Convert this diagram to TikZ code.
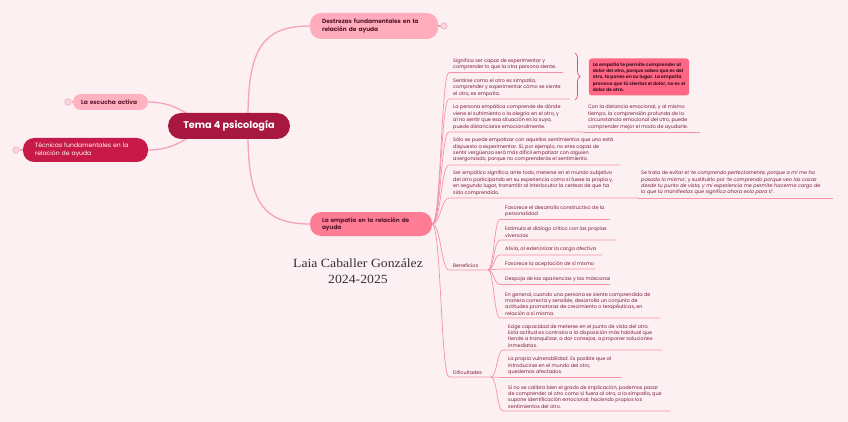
\documentclass[tikz,border=0pt]{standalone}
\usepackage{fontspec}
\setmainfont{Poppins}
\newfontfamily\laiaserif{Liberation Serif}
\usetikzlibrary{decorations.pathreplacing}
\definecolor{bgc}{HTML}{FCF0F3}
\definecolor{ink}{HTML}{7A1E3C}
\definecolor{linkc}{HTML}{F592A8}
\definecolor{mainlinkc}{HTML}{F6A3B4}
\definecolor{crimson}{HTML}{A8173F}
\definecolor{tecc}{HTML}{C81A48}
\definecolor{lightpink}{HTML}{FFB3C1}
\definecolor{destc}{HTML}{FFADBC}
\definecolor{empc}{HTML}{FF7C95}
\definecolor{boxc}{HTML}{FF6884}
\definecolor{dotfill}{HTML}{F9D5DD}
\definecolor{dotdraw}{HTML}{F2A8B8}
\definecolor{bracec}{HTML}{D9506E}
\pgfdeclarelayer{bglayer}
\pgfdeclarelayer{linklayer}
\pgfsetlayers{bglayer,linklayer,main}
\tikzset{
  topic/.style={rounded corners=11pt, inner ysep=0pt, align=left, font=\fontsize{5.9}{7.2}\selectfont\bfseries},
  itemtxt/.style={anchor=south west, inner sep=0pt, align=left, font=\fontsize{4.9}{6.4}\selectfont, text=ink},
  link/.style={draw=linkc, line width=0.7pt},
  mainlink/.style={draw=mainlinkc, line width=1.3pt},
  dot/.style={circle, minimum size=6.5pt, inner sep=0pt, fill=dotfill, draw=dotdraw, line width=0.5pt}
}
\begin{document}
\begin{tikzpicture}[x=1pt,y=-1pt]
\begin{pgfonlayer}{bglayer}
\fill[bgc] (0,0) rectangle (848,422);
\end{pgfonlayer}
\useasboundingbox (0,0) rectangle (848,422);

% main nodes
\node[rounded corners=13pt, fill=crimson, text=white, minimum width=122pt, minimum height=26pt, inner sep=0pt, font=\fontsize{9.7}{11}\selectfont\bfseries] (tema) at (229,126) {Tema 4 psicología};
\node[topic, fill=lightpink, text=ink!80!black, minimum height=16pt, inner xsep=8pt, text width=59pt, rounded corners=8pt] (escucha) at (110.5,102) {La escucha activa};
\node[topic, fill=tecc, text=white, minimum height=24pt, inner xsep=12pt, text width=101pt, font=\fontsize{6.1}{7.3}\selectfont] (tecnicas) at (85.5,150) {Técnicas fundamentales en la\\relación de ayuda};
\node[topic, fill=destc, text=ink!70!black, minimum height=26pt, inner xsep=12pt, text width=104pt] (destrezas) at (374,26) {Destrezas fundamentales en la\\relación de ayuda};
\node[topic, fill=empc, text=ink!70!black, minimum height=24pt, inner xsep=12pt, text width=98pt, font=\fontsize{5.8}{7.1}\selectfont\bfseries] (empatia) at (371,224) {La empatía en la relación de\\ayuda};

\node[dot] (dotesc) at (68,102) {};
\node[dot] (dottec) at (16,150) {};
\node[dot] (dotdes) at (444,26) {};

\node[font=\laiaserif\fontsize{12.5}{16}\selectfont, text=black!80, align=center, inner sep=0pt] (autor) at (358,271) {\scalebox{1.1}[1]{Laia Caballer González}\\\scalebox{1.1}[1]{2024-2025}};

\begin{pgfonlayer}{linklayer}
\draw[mainlink] ([xshift=19pt]tema.north) .. controls (249,50) and (262,26) .. (destrezas.west);
\draw[mainlink] ([xshift=19pt]tema.south) .. controls (249,200) and (262,224) .. (empatia.west);
\draw[mainlink] (escucha.east) .. controls (172,102) and (186,112) .. ([xshift=-25pt]tema.center);
\draw[mainlink] (tecnicas.east) .. controls (172,150) and (186,140) .. ([xshift=-25pt]tema.center);
\draw[mainlink] (escucha.west) -- (dotesc);
\draw[mainlink] (tecnicas.west) -- (dottec);
\draw[mainlink] (destrezas.east) -- (dotdes);
\end{pgfonlayer}

% empathy children
\coordinate (hub) at (empatia.east);
\coordinate (u1) at (449,72.5);
\coordinate (u2) at (449,99);
\coordinate (u3) at (449,132);
\coordinate (u3c) at (583,132);
\coordinate (u4) at (449,165);
\coordinate (u5) at (449,198);
\coordinate (u5c) at (638,198);
\coordinate (ub) at (449,270);
\coordinate (ud) at (449,377);

\node[itemtxt] (i1) at (453,70) {Significa ser capaz de experimentar y\\comprender lo que la otra persona siente.};
\node[itemtxt] (i2) at (453,96.5) {Sentirse como el otro es simpatía,\\comprender y experimentar cómo se siente\\el otro, es empatía.};
\node[itemtxt] (i3) at (453,129.5) {La persona empática comprende de dónde\\viene el sufrimiento o la alegría en el otro, y\\al no sentir que esa situación es la suya,\\puede distanciarse emocionalmente.};
\node[itemtxt] (i3c) at (588,129.5) {Con la distancia emocional, y al mismo\\tiempo, la comprensión profunda de la\\circunstancia emocional del otro, puede\\comprender mejor el modo de ayudarle.};
\node[itemtxt] (i4) at (453,162.5) {Sólo se puede empatizar con aquellos sentimientos que uno está\\dispuesto a experimentar. Si, por ejemplo, no eres capaz de\\sentir vergüenza será más difícil empatizar con alguien\\avergonzado, porque no comprenderás el sentimiento.};
\node[itemtxt] (i5) at (453,195.5) {Ser empático significa, ante todo, meterse en el mundo subjetivo\\del otro participando en su experiencia como si fuese la propia y,\\en segundo lugar, transmitir al interlocutor la certeza de que ha\\sido comprendido.};
\node[itemtxt] (i5c) at (641,195.5) {Se trata de evitar el \textit{‘te comprendo perfectamente, porque a mí me ha}\\\textit{pasado lo mismo’}, y sustituirlo por \textit{‘te comprendo porque veo las cosas}\\\textit{desde tu punto de vista, y mi experiencia me permite hacerme cargo de}\\\textit{lo que tú manifiestas que significa ahora esto para ti’}.};
\node[itemtxt] (ben) at (453,267.5) {Beneficios};
\node[itemtxt] (dif) at (453,374.5) {Dificultades};

\node[rounded corners=3pt, fill=boxc, inner xsep=4pt, inner ysep=0pt, minimum height=37pt, align=left, text=ink!60!black, font=\fontsize{4.6}{6.4}\selectfont\bfseries] (caja) at (639,77) {La empatía te permite comprender al\\dolor del otro, porque sabes que es del\\otro, te pones en su lugar. La empatía\\provoca que tú sientas el dolor, no es el\\dolor de otro.};
\coordinate (brtop) at (575,53);
\coordinate (brbot) at (575,100);

\begin{pgfonlayer}{linklayer}
\foreach \u/\e in {u1/563, u2/570, u3/583, u4/620, u5/638, ub/488, ud/491}{
  \draw[link] (hub) .. controls (441,224) and (441,0 |- \u) .. (\u) -- (\e,0 |- \u);
}
\draw[link] (u3c) -- (700,132);
\draw[link] (u5c) -- (833,198);
\draw[bracec, line width=0.7pt, decorate, decoration={brace, amplitude=5pt}] (brtop) -- (brbot);
\end{pgfonlayer}

% beneficios
\coordinate (fb) at (488,270);
\node[itemtxt] (b1) at (505,217) {Favorece el desarrollo constructivo de la\\personalidad};
\node[itemtxt] (b2) at (505,237.5) {Estimula el diálogo crítico con las propias\\vivencias};
\node[itemtxt] (b3) at (505,252.5) {Alivia, al exteriorizar la carga afectiva};
\node[itemtxt] (b4) at (505,266.5) {Favorece la aceptación de sí mismo};
\node[itemtxt] (b5) at (505,282) {Despoja de las apariencias y las máscaras};
\node[itemtxt] (b6) at (505,315.5) {En general, cuando una persona se siente comprendida de\\manera correcta y sensible, desarrolla un conjunto de\\actitudes promotoras de crecimiento o terapéuticas, en\\relación a sí misma.};
\begin{pgfonlayer}{linklayer}
\foreach \y/\e in {219.5/610, 240/615, 255/602, 269/595, 284.5/610, 318/660}{
  \draw[link] (fb) .. controls (494,270) and (494,\y) .. (500,\y) -- (\e,\y);
}
\end{pgfonlayer}

% dificultades
\coordinate (fd) at (491,377);
\node[itemtxt] (d1) at (508,347.5) {Exige capacidad de meterse en el punto de vista del otro.\\Esta actitud es contraria a la disposición más habitual que\\tiende a tranquilizar, a dar consejos, a proponer soluciones\\inmediatas.};
\node[itemtxt] (d2) at (508,375) {La propia vulnerabilidad. Es posible que al\\introducirse en el mundo del otro,\\quedemos afectados.};
\node[itemtxt] (d3) at (508,408.5) {Si no se calibra bien el grado de implicación, podemos pasar\\de comprender al otro como si fuera al otro, a la simpatía, que\\supone identificación emocional, haciendo propios los\\sentimientos del otro.};
\begin{pgfonlayer}{linklayer}
\foreach \y/\e in {350/662, 377.5/621, 411/670}{
  \draw[link] (fd) .. controls (497,377) and (497,\y) .. (503,\y) -- (\e,\y);
}
\end{pgfonlayer}
\end{tikzpicture}
\end{document}
